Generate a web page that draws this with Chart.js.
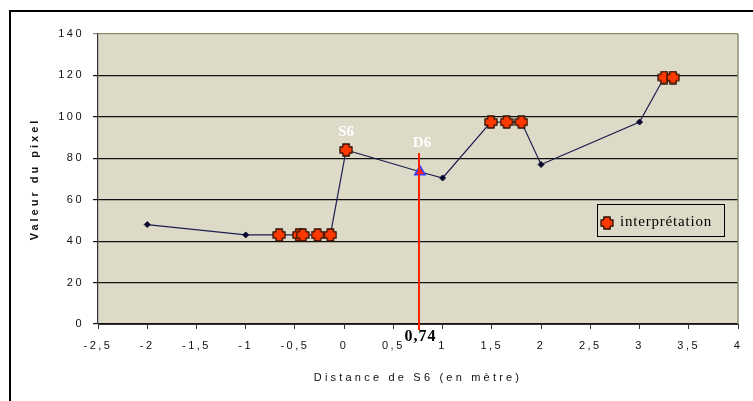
<!DOCTYPE html>
<html><head><meta charset="utf-8">
<script src="https://cdn.jsdelivr.net/npm/chart.js@4/dist/chart.umd.min.js"></script>
<style>html,body{margin:0;padding:0;background:#fff;overflow:hidden}</style>
</head><body>
<canvas id="c" width="753" height="401"></canvas>
<script>
// ---- data ----
const lineX   = [-2, -1, -0.66, -0.46, -0.42, -0.27, -0.14, 0.02, 0.77, 1, 1.49, 1.65, 1.8, 2, 3, 3.25, 3.34];
const lineY   = [48, 43, 43, 43, 43, 43, 43, 84, 73.5, 70.5, 97.5, 97.5, 97.5, 77, 97.5, 119, 119];
const interpX = [-0.66, -0.46, -0.42, -0.27, -0.14, 0.02, 1.49, 1.65, 1.8, 3.25, 3.34];
const interpY = [43, 43, 43, 43, 43, 84, 97.5, 97.5, 97.5, 119, 119];
const d6X = [0.77];
const d6Y = [73.5];
const vlineX = 0.765, vlineTopY = 82.5;
const xTicks = [-2.5, -2, -1.5, -1, -0.5, 0, 0.5, 1, 1.5, 2, 2.5, 3, 3.5, 4];
const xTickLabels = ['-2,5','-2','-1,5','-1','-0,5','0','0,5','1','1,5','2','2,5','3','3,5','4'];
const yTicks = [0, 20, 40, 60, 80, 100, 120, 140];
const yTickLabels = ['0','20','40','60','80','100','120','140'];
const seriesLabel = 'interprétation';
const xTitle = 'Distance de S6 (en mètre)';
const yTitle = 'Valeur du pixel';
const annotLabels = ['S6', 'D6'];
const annotX = [0.02, 0.77];
const annotY = [84, 73.5];
const valueLabel = '0,74';

const zip = (xs, ys) => xs.map((x, i) => ({x, y: ys[i]}));

// plus-shaped marker
function plusMarker() {
  const c = document.createElement('canvas');
  c.width = 14; c.height = 14;
  const g = c.getContext('2d');
  const m = 7, h = 6, w = 3.2;
  g.beginPath();
  g.moveTo(m - w, m - h); g.lineTo(m + w, m - h); g.lineTo(m + w, m - w);
  g.lineTo(m + h, m - w); g.lineTo(m + h, m + w); g.lineTo(m + w, m + w);
  g.lineTo(m + w, m + h); g.lineTo(m - w, m + h); g.lineTo(m - w, m + w);
  g.lineTo(m - h, m + w); g.lineTo(m - h, m - w); g.lineTo(m - w, m - w);
  g.closePath();
  g.fillStyle = '#FF3A00'; g.fill();
  g.lineWidth = 1.3; g.strokeStyle = '#2a1000'; g.lineJoin = 'round'; g.stroke();
  return c;
}
const plusImg = plusMarker();

const BG = '#DDDBC8';
const OLIVE = '#8E8E6E';

function patchTitle(scale, spacing) {
  if (scale._patched) return;
  const orig = scale.drawTitle;
  scale.drawTitle = function () {
    const prev = this.ctx.letterSpacing;
    this.ctx.letterSpacing = spacing;
    orig.apply(this, arguments);
    this.ctx.letterSpacing = prev;
  };
  scale._patched = true;
}

const decor = {
  id: 'decor',
  beforeDraw(chart) {
    const {ctx, chartArea: a} = chart;
    patchTitle(chart.scales.x, '3.2px');
    patchTitle(chart.scales.y, '3px');
    ctx.save();
    ctx.fillStyle = '#fff';
    ctx.fillRect(0, 0, chart.width, chart.height);
    ctx.fillStyle = BG;
    ctx.fillRect(a.left, a.top, a.right - a.left, a.bottom - a.top);
    ctx.fillStyle = '#000';
    ctx.fillRect(9, 10, 2, chart.height - 10);
    ctx.fillRect(9, 10, chart.width - 9, 2);
    ctx.restore();
    ctx.letterSpacing = '2.5px';
  },
  beforeDatasetsDraw(chart) {
    chart.ctx.letterSpacing = '0px';
  },
  afterDatasetsDraw(chart) {
    const {ctx, chartArea: a, scales: {x, y}} = chart;
    ctx.save();
    // right border of plot
    ctx.strokeStyle = OLIVE; ctx.lineWidth = 1.5;
    ctx.beginPath(); ctx.moveTo(a.right, a.top); ctx.lineTo(a.right, a.bottom); ctx.stroke();
    // vertical red line
    const vx = Math.round(x.getPixelForValue(vlineX));
    ctx.strokeStyle = '#FF2200'; ctx.lineWidth = 2;
    ctx.beginPath(); ctx.moveTo(vx, y.getPixelForValue(vlineTopY)); ctx.lineTo(vx, a.bottom + 6); ctx.stroke();
    ctx.restore();
  },
  afterDraw(chart) {
    const {ctx, scales: {x, y}} = chart;
    ctx.save();
    ctx.letterSpacing = '0px';
    ctx.textAlign = 'center'; ctx.textBaseline = 'middle';
    ctx.font = 'bold 15px "Liberation Serif"';
    ctx.fillStyle = '#fff';
    annotLabels.forEach((t, i) => {
      const px = x.getPixelForValue(annotX[i]);
      const py = y.getPixelForValue(annotY[i]);
      ctx.fillText(t, px + (i === 1 ? 2 : 0), py - (i === 0 ? 18 : 29));
    });
    // value label under axis
    ctx.fillStyle = '#000';
    ctx.font = 'bold 16px "Liberation Serif"';
    ctx.letterSpacing = '1px';
    ctx.fillText(valueLabel, x.getPixelForValue(vlineX) + 1, 337);
    // legend
    ctx.letterSpacing = '0px';
    const lx = 597, ly = 204, lw = 127, lh = 32;
    ctx.fillStyle = BG; ctx.fillRect(lx, ly, lw, lh);
    ctx.strokeStyle = '#000'; ctx.lineWidth = 1;
    ctx.strokeRect(lx + 0.5, ly + 0.5, lw, lh);
    ctx.drawImage(plusImg, 607 - 7, 223 - 7);
    ctx.textAlign = 'left';
    ctx.fillStyle = '#000';
    ctx.font = '15px "Liberation Serif"';
    ctx.letterSpacing = '0.8px';
    ctx.fillText(seriesLabel, 620, 222);
    ctx.restore();
  }
};

new Chart(document.getElementById('c'), {
  type: 'scatter',
  data: {
    datasets: [
      { label: seriesLabel, data: zip(interpX, interpY), pointStyle: plusImg, pointRadius: 7, showLine: false },
      { label: 'D6', data: zip(d6X, d6Y), pointStyle: 'triangle', pointRadius: 6,
        backgroundColor: '#FF2222', borderColor: '#3A3AFF', borderWidth: 1.5, showLine: false },
      { label: 'profil', data: zip(lineX, lineY), showLine: true, borderColor: '#1E1E50', borderWidth: 1.2,
        pointStyle: 'rectRot', pointRadius: 3, backgroundColor: '#0A0A30', pointBorderColor: '#0A0A30', pointBorderWidth: 1 }
    ]
  },
  options: {
    responsive: false,
    animation: false,
    devicePixelRatio: 1,
    layout: { padding: { left: 0, right: 15, top: 34, bottom: 0 } },
    plugins: { legend: { display: false }, tooltip: { enabled: false } },
    scales: {
      x: {
        type: 'linear', min: -2.5, max: 4,
        afterBuildTicks: s => { s.ticks = xTicks.map(v => ({value: v})); },
        afterFit: s => { s.height = 77; },
        ticks: { callback: (v, i) => xTickLabels[i], color: '#111', padding: 10, maxRotation: 0, autoSkip: false,
                 font: { family: 'Liberation Sans', size: 11 } },
        grid: { drawOnChartArea: false, drawTicks: true, tickLength: 5, color: '#333' },
        border: { display: true, color: '#333', width: 1 },
        title: { display: true, text: xTitle, color: '#111', padding: { top: 0, bottom: 16 },
                 font: { family: 'Liberation Sans', size: 11 } }
      },
      y: {
        type: 'linear', min: 0, max: 140,
        afterBuildTicks: s => { s.ticks = yTicks.map(v => ({value: v})); },
        afterFit: s => { s.width = 98; },
        ticks: { callback: (v, i) => yTickLabels[i], color: '#111', padding: 9,
                 font: { family: 'Liberation Sans', size: 11 } },
        grid: { drawOnChartArea: true, drawTicks: true, tickLength: 5,
                color: c => (c.tick && c.tick.value === 140 ? OLIVE : '#111'), lineWidth: 1.2 },
        border: { display: true, color: '#333', width: 1.2 },
        title: { display: true, text: yTitle, color: '#111', padding: { top: 28, bottom: 0 },
                 font: { family: 'Liberation Sans', size: 11, weight: 'bold' } }
      }
    }
  },
  plugins: [decor]
});
</script>
</body></html>
